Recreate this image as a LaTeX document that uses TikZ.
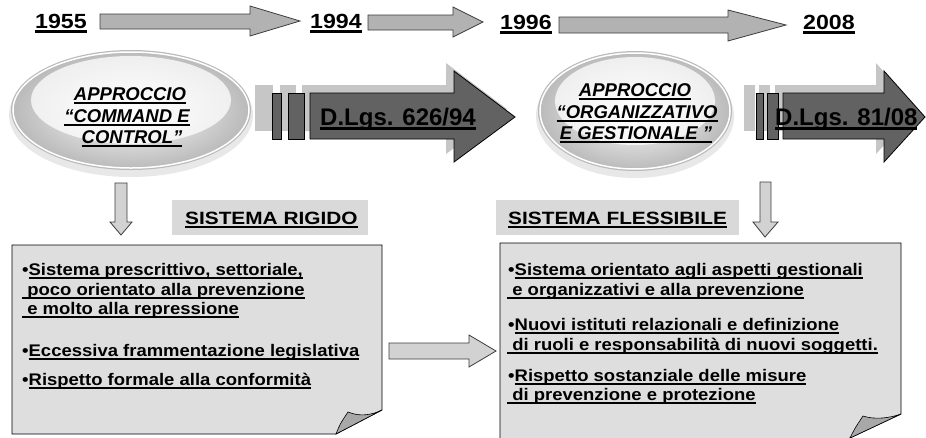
\documentclass[tikz,border=0pt]{standalone}
\usepackage{fontspec}
\setmainfont{Liberation Sans}
\newfontfamily\fA[FakeStretch=1.13]{Liberation Sans}
\newfontfamily\fB[FakeStretch=1.17]{Liberation Sans}
\newfontfamily\fC[FakeStretch=1.1]{Liberation Sans}
\newfontfamily\fD{Liberation Sans}
\definecolor{topfill}{HTML}{B2B2B2}
\definecolor{topdraw}{HTML}{3C3C3C}
\definecolor{bigfill}{HTML}{626262}
\definecolor{shadowc}{HTML}{C6C6C6}
\definecolor{boxfill}{HTML}{DEDEDE}
\definecolor{labfill}{HTML}{D9D9D9}
\definecolor{downfill}{HTML}{D2D2D2}
\definecolor{flapc}{HTML}{A8A8A8}
\newcommand\uln[3]{\setbox0\hbox{#3}\leavevmode\rlap{\rule[-#1]{\wd0}{#2}}\box0}
\newcommand\bu[1]{•\uln{3.5pt}{1.8pt}{#1}}
\newcommand\spl[1]{\uln{3.5pt}{1.8pt}{\ #1}}
\tikzset{
  yeart/.style={anchor=base west, inner sep=0pt, font=\fA\bfseries\fontsize{20.5}{24}\selectfont},
  ellt/.style={anchor=base, inner sep=0pt, font=\fD\bfseries\itshape\fontsize{18.5}{21}\selectfont},
  dlt/.style={anchor=base west, inner sep=0pt, font=\fD\bfseries\fontsize{24}{30}\selectfont},
  labt/.style={anchor=base west, inner sep=0pt, font=\fB\bfseries\fontsize{17.8}{20}\selectfont},
  bodyt/.style={anchor=base west, inner sep=0pt, font=\fC\bfseries\fontsize{16.8}{18}\selectfont},
  toparrow/.style={fill=topfill, draw=topdraw, line width=0.8pt},
  bigarrow/.style={fill=bigfill, draw=black, line width=0.8pt},
  shadowarrow/.style={fill=shadowc, draw=none},
  downarrow/.style={fill=downfill, draw=topdraw, line width=0.8pt},
  paper/.style={fill=boxfill, draw=black, line width=0.8pt},
  flap/.style={fill=flapc, draw=black, line width=0.6pt},
  labbox/.style={fill=labfill, draw=none}
}
\begin{document}
\begin{tikzpicture}[x=1pt,y=-1pt]
\useasboundingbox (0,0) rectangle (926,437);
\clip (0,0) rectangle (926,437);
\fill[white] (0,0) rectangle (926,437);

% ---------- years and top arrows
\node[yeart] (y1955) at (35,28) {\uln{4.5pt}{2.6pt}{1955}};
\node[yeart] (y1994) at (310,28) {\uln{4.5pt}{2.6pt}{1994}};
\node[yeart] (y1996) at (500,29) {\uln{4.5pt}{2.6pt}{1996}};
\node[yeart] (y2008) at (803,29) {\uln{4.5pt}{2.6pt}{2008}};
\draw[toparrow] (100,14) -- (250,14) -- (250,6) -- (300,21) -- (250,36) -- (250,29) -- (100,29) -- cycle;
\draw[toparrow] (368,15) -- (453,15) -- (453,7) -- (483,22) -- (453,37) -- (453,30) -- (368,30) -- cycle;
\draw[toparrow] (559,17) -- (728,17) -- (728,10) -- (786,25) -- (728,41) -- (728,33) -- (559,33) -- cycle;

% ---------- ellipses
\fill[gray!18] (131,115) ellipse [x radius=122pt, y radius=62pt];
\shade[inner color=white, outer color=gray!55] (131,110) ellipse [x radius=120pt, y radius=60pt];
\fill[white, opacity=0.75] (131,100) ellipse [x radius=100pt, y radius=44pt];
\draw[white, line width=1.5pt] (131,110) ellipse [x radius=118pt, y radius=58pt];
\node[ellt] (e1a) at (130,100) {\uln{4pt}{1.8pt}{APPROCCIO}};
\node[ellt] (e1b) at (127,122) {\uln{4pt}{1.8pt}{“COMMAND E}};
\node[ellt] (e1c) at (132,143) {\uln{4pt}{1.8pt}{CONTROL”}};

\fill[gray!18] (635,116) ellipse [x radius=99pt, y radius=62pt];
\shade[inner color=white, outer color=gray!55] (635,111) ellipse [x radius=97pt, y radius=60pt];
\fill[white, opacity=0.75] (635,101) ellipse [x radius=80pt, y radius=44pt];
\draw[white, line width=1.5pt] (635,111) ellipse [x radius=95pt, y radius=58pt];
\node[ellt] (e2a) at (635,96) {\uln{4pt}{1.8pt}{APPROCCIO}};
\node[ellt] (e2b) at (637,118) {\uln{4pt}{1.8pt}{“ORGANIZZATIVO}};
\node[ellt] (e2c) at (636,139) {\uln{4pt}{1.8pt}{E GESTIONALE ”}};

% ---------- big arrow 1
\begin{scope}[shift={(-8,-8)}]
\fill[shadowarrow] (263,93) rectangle (281,139);
\fill[shadowarrow] (288,93) rectangle (304,139);
\fill[shadowarrow] (310,93) -- (454,93) -- (454,71) -- (515,117) -- (454,162) -- (454,139) -- (310,139) -- cycle;
\end{scope}
\draw[bigarrow] (272,93) rectangle (281,139);
\draw[bigarrow] (288,93) rectangle (304,139);
\draw[bigarrow] (310,93) -- (454,93) -- (454,71) -- (515,117) -- (454,162) -- (454,139) -- (310,139) -- cycle;
\node[dlt] (dl1) at (320,125) {\uln{5pt}{3pt}{D.Lgs. 626/94}};

% ---------- big arrow 2
\begin{scope}[shift={(-8,-8)}]
\fill[shadowarrow] (752,93) rectangle (763,139);
\fill[shadowarrow] (767,93) rectangle (778,139);
\fill[shadowarrow] (783,93) -- (884,93) -- (884,71) -- (925,117) -- (884,162) -- (884,139) -- (783,139) -- cycle;
\end{scope}
\draw[bigarrow] (756,93) rectangle (763,139);
\draw[bigarrow] (767,93) rectangle (778,139);
\draw[bigarrow] (783,93) -- (884,93) -- (884,71) -- (925,117) -- (884,162) -- (884,139) -- (783,139) -- cycle;
\node[dlt] (dl2) at (775,125) {\uln{5pt}{3pt}{D.Lgs. 81/08}};

% ---------- down arrows
\draw[downarrow] (115,183) -- (127,183) -- (127,222) -- (132,222) -- (121,235) -- (110,222) -- (115,222) -- cycle;
\draw[downarrow] (760,182) -- (771,182) -- (771,222) -- (778,222) -- (765,237) -- (753,222) -- (760,222) -- cycle;

% ---------- labels
\fill[labbox] (172,200) rectangle (368,235);
\node[labt] (rig) at (185,224) {\uln{3.5pt}{1.8pt}{SISTEMA RIGIDO}};
\fill[labbox] (496,200) rectangle (739,235);
\node[labt] (fle) at (508,224) {\uln{3.5pt}{1.8pt}{SISTEMA FLESSIBILE}};

% ---------- paper 1
\draw[paper] (12,245) -- (382,245) -- (382,410) -- (336,434) -- (12,434) -- cycle;
\draw[flap] (336,434) .. controls (340,424) .. (348,412) .. controls (360,417) and (372,415) .. (382,410) -- cycle;
\node[bodyt] (a1) at (22,275) {\bu{Sistema prescrittivo, settoriale,}};
\node[bodyt] (a2) at (22,295) {\spl{poco orientato alla prevenzione}};
\node[bodyt] (a3) at (22,314) {\spl{e molto alla repressione}};
\node[bodyt] (a4) at (22,356) {\bu{Eccessiva frammentazione legislativa}};
\node[bodyt] (a5) at (22,385) {\bu{Rispetto formale alla conformità}};

% ---------- paper 2
\draw[paper] (500,243) -- (901,243) -- (901,414) -- (835,445) -- (500,445) -- cycle;
\draw[flap] (850,438) .. controls (855,428) .. (863,416) .. controls (875,420) and (890,418) .. (901,414) -- cycle;
\node[bodyt] (b1) at (508,275) {\bu{Sistema orientato agli aspetti gestionali}};
\node[bodyt] (b2) at (507,295) {\spl{e organizzativi e alla prevenzione}};
\node[bodyt] (b3) at (508,330) {\bu{Nuovi istituti relazionali e definizione}};
\node[bodyt] (b4) at (507,350) {\spl{di ruoli e responsabilità di nuovi soggetti.}};
\node[bodyt] (b5) at (508,381) {\bu{Rispetto sostanziale delle misure}};
\node[bodyt] (b6) at (507,400) {\spl{di prevenzione e protezione}};

% ---------- middle arrow
\draw[downarrow] (389,343) -- (469,343) -- (469,335) -- (496,351) -- (469,367) -- (469,359) -- (389,359) -- cycle;
\end{tikzpicture}
\end{document}
